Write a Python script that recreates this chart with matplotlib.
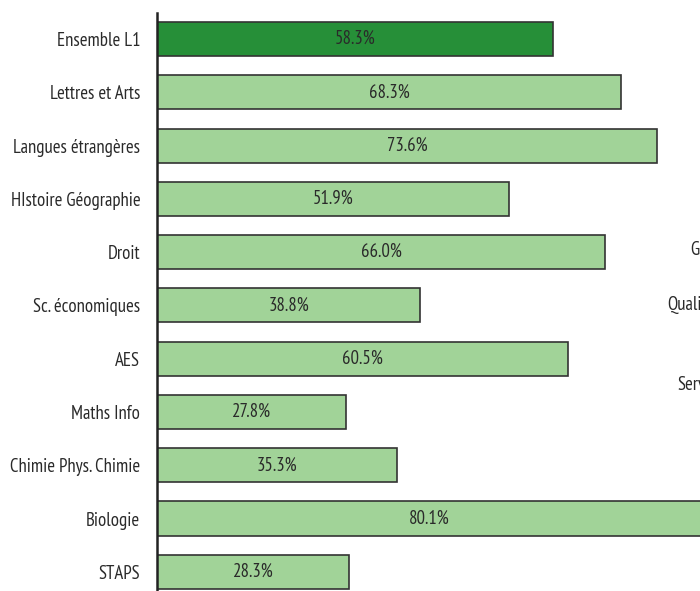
import matplotlib
matplotlib.use("Agg")
import matplotlib.pyplot as plt
from matplotlib import font_manager

categories = ["Ensemble L1", "Lettres et Arts", "Langues étrangères", "HIstoire Géographie",
              "Droit", "Sc. économiques", "AES", "Maths Info", "Chimie Phys. Chimie",
              "Biologie", "STAPS"]
values = [58.3, 68.3, 73.6, 51.9, 66.0, 38.8, 60.5, 27.8, 35.3, 80.1, 28.3]
value_labels = ["58.3%", "68.3%", "73.6%", "51.9%", "66.0%", "38.8%", "60.5%",
                "27.8%", "35.3%", "80.1%", "28.3%"]
side_texts = ["G", "Quali", "Serv"]

names = {f.name for f in font_manager.fontManager.ttflist}
fam = next((n for n in ["PT Sans Narrow", "Open Sans Condensed", "Roboto"] if n in names), "DejaVu Sans")
plt.rcParams['font.family'] = [fam, 'DejaVu Sans']

W, H = 700, 591
fig = plt.figure(figsize=(W/100, H/100), dpi=100)
ax = fig.add_axes([157/W, 0, 1 - 157/W, (591-13)/H])

dark = "#268f38"
light = "#a1d398"
colors = [dark] + [light]*(len(values)-1)
ypos = list(range(len(values)))
ax.barh(ypos, values, height=0.64, color=colors, edgecolor="#333333", linewidth=1.2)
FS = 13.5
for y, v, lab in zip(ypos, values, value_labels):
    ax.text(v/2, y, lab, ha="center", va="center", fontsize=FS, color="#2a2a2a")

ax.set_xlim(0, (700-157)/6.79)
ax.set_ylim(10.36, -0.488)
ax.set_yticks(ypos)
ax.set_yticklabels(categories, fontsize=FS, color="#2a2a2a")
ax.tick_params(axis="y", length=0, pad=12)
ax.set_xticks([])
for s in ["top", "right", "bottom"]:
    ax.spines[s].set_visible(False)
ax.spines["left"].set_linewidth(1.8)
ax.spines["left"].set_color("#222222")

for txt, x, y in zip(side_texts, [690, 667, 677], [250, 305, 385]):
    fig.text(x/W, 1 - y/H, txt, ha="left", va="center", fontsize=FS, color="#2a2a2a")

fig.savefig("out.png", dpi=100)
